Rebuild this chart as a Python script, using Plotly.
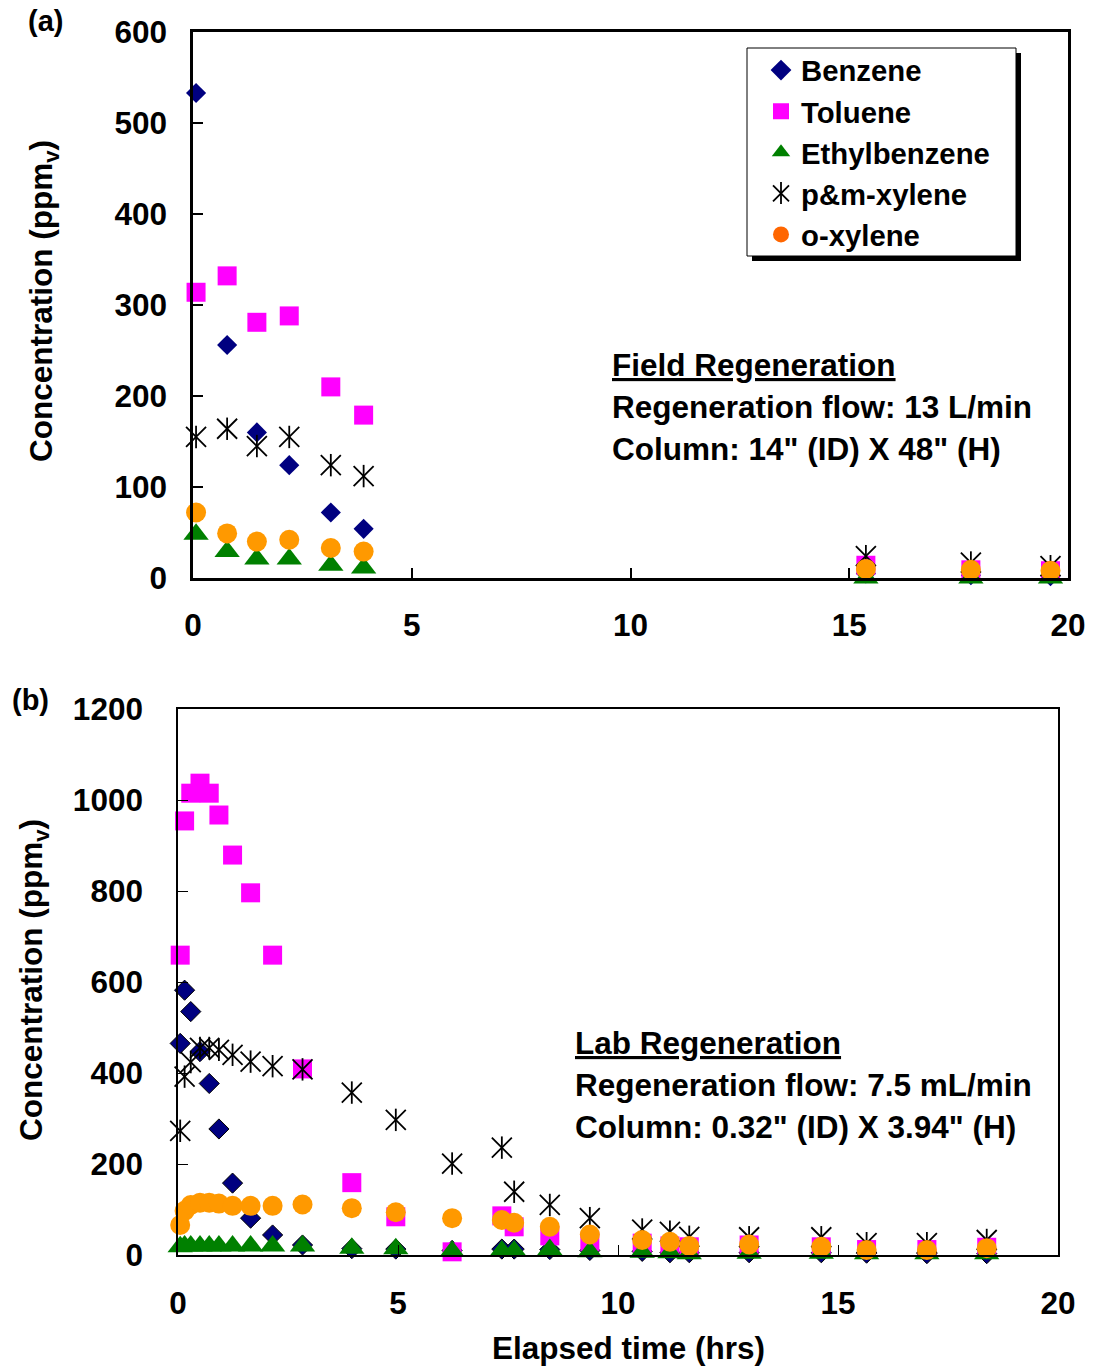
import plotly.graph_objects as go

# ---- Field regeneration (panel a) ----
field_time = [0.07, 0.78, 1.46, 2.2, 3.15, 3.9, 15.38, 17.78, 19.6]
field_benzene = [533, 256, 160, 124, 72, 54, 5, 3, 2]
field_toluene = [314, 332, 281, 288, 210, 179, 14, 9, 8]
field_ethylbenzene = [48, 29, 21, 21, 14, 11, 0, 0, 0]
field_pm_xylene = [155, 164, 145, 155, 124, 112, 24, 17, 13]
field_o_xylene = [72, 49, 40, 42, 33, 29, 10, 9, 8]

# ---- Lab regeneration (panel b) ----
lab_time = [0.05, 0.15, 0.29, 0.5, 0.71, 0.93, 1.24, 1.65, 2.15, 2.83,
            3.95, 4.95, 6.23, 7.36, 7.64, 8.45, 9.36, 10.55, 11.18, 11.62,
            12.98, 14.62, 15.65, 17.02, 18.38]
lab_benzene = [465, 582, 535, 447, 377, 277, 158, 81, 44, 22,
               14, 13, 10, 13, 13, 12, 10, 8, 5, 5, 5, 5, 4, 3, 3]
lab_toluene = [659, 954, 1015, 1037, 1015, 967, 879, 796, 659, 409,
               159, 84, 7, 86, 62, 42, 29, 26, 20, 18, 22, 18, 12, 12, 17]
lab_ethylbenzene = [18, 20, 20, 20, 20, 20, 20, 20, 20, 20,
                    15, 14, 8, 9, 9, 12, 7, 6, 5, 3, 4, 4, 3, 3, 3]
lab_pm_xylene = [273, 392, 424, 455, 455, 451, 440, 425, 415, 408,
                 357, 297, 201, 236, 139, 110, 81, 56, 51, 40, 39, 39, 26, 26, 33]
lab_o_xylene = [66, 97, 110, 115, 115, 113, 108, 108, 108, 111,
                103, 94, 81, 77, 71, 62, 45, 33, 29, 20, 23, 18, 11, 11, 15]

series_names = ["Benzene", "Toluene", "Ethylbenzene", "p&m-xylene", "o-xylene"]
x_ticks = [0, 5, 10, 15, 20]
field_y_ticks = [0, 100, 200, 300, 400, 500, 600]
lab_y_ticks = [0, 200, 400, 600, 800, 1000, 1200]

W, H = 1093, 1368
FONT = "Arial, Liberation Sans, sans-serif"
NAVY, MAGENTA, GREEN, ORANGE = "#000080", "#FF00FF", "#008000", "#FF9900"


def px(x):
    return x / W


def py(y):
    return 1 - y / H


fig = go.Figure()


def add_panel(t, benz, tol, eth, pmx, oxy, xa, ya, diamond_outline):
    common = dict(mode="markers", xaxis=xa, yaxis=ya, showlegend=False,
                  cliponaxis=False, hoverinfo="skip")
    fig.add_trace(go.Scatter(x=t, y=benz, marker=dict(
        symbol="diamond", size=15.5, color=NAVY,
        line=dict(color="black", width=1 if diamond_outline else 0)), **common))
    fig.add_trace(go.Scatter(x=t, y=tol, marker=dict(
        symbol="square", size=19, color=MAGENTA, line=dict(width=0)), **common))
    fig.add_trace(go.Scatter(x=t, y=eth, marker=dict(
        symbol="triangle-up", size=22, color=GREEN, line=dict(width=0)), **common))
    # asterisk: an X plus a vertical stroke
    fig.add_trace(go.Scatter(x=t, y=pmx, marker=dict(
        symbol="x-thin-open", size=20, color="black",
        line=dict(color="black", width=1.8)), **common))
    fig.add_trace(go.Scatter(x=t, y=pmx, marker=dict(
        symbol="line-ns-open", size=16, color="black",
        line=dict(color="black", width=1.8)), **common))
    fig.add_trace(go.Scatter(x=t, y=oxy, marker=dict(
        symbol="circle", size=20, color=ORANGE, line=dict(width=0)), **common))


add_panel(field_time, field_benzene, field_toluene, field_ethylbenzene,
          field_pm_xylene, field_o_xylene, "x", "y", False)
add_panel(lab_time, lab_benzene, lab_toluene, lab_ethylbenzene,
          lab_pm_xylene, lab_o_xylene, "x2", "y2", True)

# legend entries
legend_markers = [
    dict(symbol="diamond", size=16, color=NAVY),
    dict(symbol="square", size=16, color=MAGENTA),
    dict(symbol="triangle-up", size=16, color=GREEN),
    dict(symbol="x-thin-open", size=16, color="black", line=dict(color="black", width=1.8)),
    dict(symbol="circle", size=16, color="#FF6600"),
]
for name, mk in zip(series_names, legend_markers):
    fig.add_trace(go.Scatter(x=[None], y=[None], mode="markers", name=name,
                             marker=mk, xaxis="x", yaxis="y", showlegend=True))

axis_common = dict(showgrid=False, zeroline=False, showline=True, linecolor="black",
                   mirror=True, ticks="inside", ticklen=10, tickcolor="black",
                   automargin=False,
                   tickfont=dict(family=FONT, size=31.5, color="black", weight="bold"))

fig.update_layout(
    template="none",
    width=W, height=H, autosize=False,
    margin=dict(l=0, r=0, t=0, b=0, pad=0, autoexpand=False),
    paper_bgcolor="white", plot_bgcolor="white",
    font=dict(family=FONT, size=31.5, color="black", weight="bold"),
    xaxis=dict(domain=[px(193), px(1068)], range=[0, 20], anchor="y",
               tickvals=x_ticks, linewidth=2.5, tickwidth=1.5,
               ticklabelstandoff=17, **axis_common),
    yaxis=dict(domain=[py(578), py(32)], range=[0, 600], anchor="x",
               tickvals=field_y_ticks, linewidth=2.5, tickwidth=1.5,
               ticklabelstandoff=17, **axis_common),
    xaxis2=dict(domain=[px(178), px(1058)], range=[0, 20], anchor="y2",
                tickvals=x_ticks, linewidth=1.5, tickwidth=1.2,
                ticklabelstandoff=19, **axis_common),
    yaxis2=dict(domain=[py(1255), py(709)], range=[0, 1200], anchor="x2",
                tickvals=lab_y_ticks, linewidth=1.5, tickwidth=1.2,
                ticklabelstandoff=27, **axis_common),
    legend=dict(x=px(761), y=py(44.5), xanchor="left", yanchor="top",
                bgcolor="rgba(0,0,0,0)", borderwidth=0,
                font=dict(family=FONT, size=29.3, color="black", weight="bold"),
                itemsizing="trace"),
)

# legend frame with drop shadow
fig.add_shape(type="rect", xref="paper", yref="paper", layer="above",
              x0=px(752), x1=px(1021), y0=py(261), y1=py(53),
              fillcolor="black", line=dict(width=0))
fig.add_shape(type="rect", xref="paper", yref="paper", layer="above",
              x0=px(747), x1=px(1016), y0=py(256), y1=py(48),
              fillcolor="white", line=dict(color="black", width=1))
# vertical stroke completing the asterisk symbol of the p&m-xylene legend entry
fig.add_shape(type="line", xref="paper", yref="paper", layer="above",
              x0=px(781), x1=px(781), y0=py(204), y1=py(182),
              line=dict(color="black", width=1.8))


def text(x, y, s, size=31.5, anchor="left", angle=0):
    fig.add_annotation(x=px(x), y=py(y), xref="paper", yref="paper", text=s,
                       showarrow=False, xanchor=anchor, yanchor="middle",
                       textangle=angle,
                       font=dict(family=FONT, size=size, color="black", weight="bold"))


text(45, 21, "(a)", size=29, anchor="center")
text(30, 700, "(b)", size=29, anchor="center")
text(43, 301, "Concentration (ppm<sub>v</sub>)", anchor="center", angle=-90)
text(33, 980, "Concentration (ppm<sub>v</sub>)", anchor="center", angle=-90)
text(628, 1348, "Elapsed time (hrs)", anchor="center")

text(610, 365, "<u>Field Regeneration</u>")
text(610, 407, "Regeneration flow: 13 L/min")
text(610, 449, "Column: 14\" (ID) X 48\" (H)")
text(573, 1043, "<u>Lab Regeneration</u>")
text(573, 1085, "Regeneration flow: 7.5 mL/min")
text(573, 1127, "Column: 0.32\" (ID) X 3.94\" (H)")

fig.write_html("out.html")
